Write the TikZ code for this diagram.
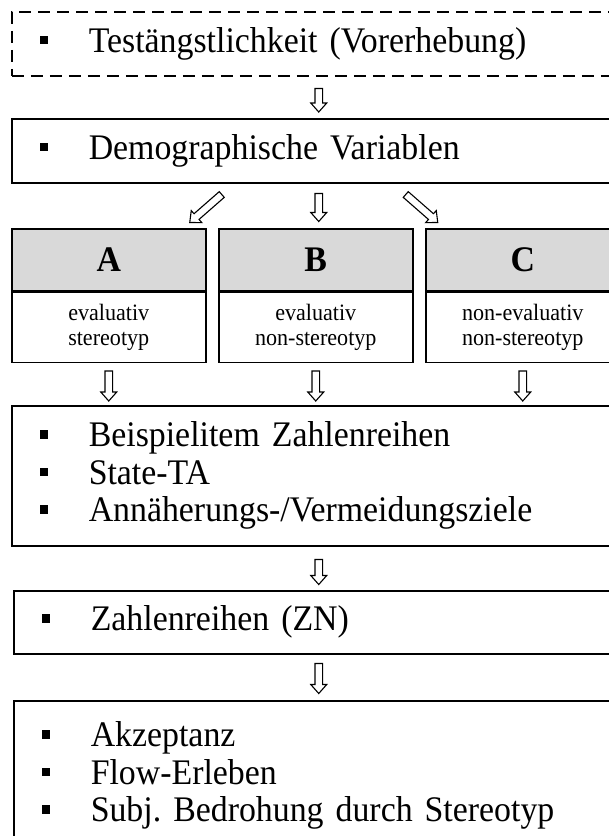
\documentclass[tikz,border=0pt]{standalone}
\usepackage{fontspec}
\setmainfont{Liberation Serif}[FakeStretch=0.94]
\usetikzlibrary{calc}
\frenchspacing

\definecolor{headgray}{HTML}{D9D9D9}

% text size of the list boxes, with slightly narrower word spaces
\newcommand\listfont{\fontsize{36}{37.5}\selectfont
  \spaceskip=0.22em plus 0.1em minus 0.05em\relax}

% square list bullet followed by the item text
\newcommand\sqbullet{\rule[8pt]{8.5pt}{8.5pt}}
\newcommand\itm[1]{\makebox[49pt][l]{\sqbullet}#1}

% hollow block arrow between two named coordinates
\newcommand\hollowarrow[2]{%
  \coordinate (hb) at ($(#2)!9pt!(#1)$);
  \draw[blockarrow]
    ($(#1)!3.8pt!90:(#2)$) -- ($(hb)!3.8pt!90:(#2)$) -- ($(hb)!8pt!90:(#2)$)
    -- (#2)
    -- ($(hb)!8pt!-90:(#2)$) -- ($(hb)!3.8pt!-90:(#2)$) -- ($(#1)!3.8pt!-90:(#2)$)
    -- cycle;}

\tikzset{
  box/.style={draw=black, line width=1.5pt, fill=white, anchor=north west,
    inner xsep=28pt, inner ysep=0pt, minimum width=614pt, text width=558pt,
    align=left, font=\listfont},
  dashbox/.style={box, dash pattern=on 12pt off 7pt},
  headbox/.style={draw=black, line width=1.5pt, fill=headgray, anchor=north west,
    minimum width=194pt, minimum height=62pt, inner sep=0pt,
    font=\bfseries\fontsize{36}{38}\selectfont},
  bodybox/.style={draw=black, line width=1.5pt, fill=white, anchor=north west,
    minimum width=194pt, minimum height=70pt, inner sep=0pt, align=center,
    font=\fontsize{23.5}{25.5}\selectfont},
  blockarrow/.style={draw=black, fill=white, line width=1.1pt, line join=miter},
}

\begin{document}
\begin{tikzpicture}[x=1pt, y=-1pt]
  \useasboundingbox (0,0) rectangle (609,836);
  \clip (0,0) rectangle (609,836);
  \fill[white] (0,0) rectangle (609,836);

  % boxes
  \node[dashbox, minimum height=64pt] (pre) at (11,11)
    {\itm{Testängstlichkeit (Vorerhebung)}};
  \node[box, minimum height=64pt] (demo) at (11,118)
    {\itm{Demographische Variablen}};

  \node[headbox] (hA) at (11,228) {A};
  \node[bodybox] (bA) at (hA.south west) {evaluativ\\stereotyp};
  \node[headbox] (hB) at (218,228) {B};
  \node[bodybox] (bB) at (hB.south west) {evaluativ\\non-stereotyp};
  \node[headbox] (hC) at (425,228) {C};
  \node[bodybox] (bC) at (hC.south west) {non-evaluativ\\non-stereotyp};

  \node[box, minimum height=140pt] (mid) at (11,405)
    {\itm{Beispielitem Zahlenreihen}\\
     \itm{State-TA}\\
     \itm{Annäherungs-/Vermeidungsziele}};
  \node[box, minimum height=63pt] (zn) at (13,590)
    {\itm{Zahlenreihen (ZN)}};
  \node[box, minimum height=150pt] (out) at (13,700)
    {\itm{Akzeptanz}\\
     \itm{Flow-Erleben}\\
     \itm{Subj. Bedrohung durch Stereotyp}};

  % arrow end points
  \coordinate (p0) at ($(pre.south)+(0,12)$);
  \coordinate (p1) at ($(demo.north)+(0,-6)$);
  \coordinate (dm0) at ($(demo.south)+(0,10)$);
  \coordinate (dm1) at ($(demo.south)+(0,38)$);
  \coordinate (dl0) at ($(demo.south)+(-97,11)$);
  \coordinate (dl1) at ($(demo.south)+(-129,39)$);
  \coordinate (dr0) at ($(demo.south)+(87,11)$);
  \coordinate (dr1) at ($(demo.south)+(119,39)$);
  \coordinate (ga0) at ($(bA.south)+(0,8)$);
  \coordinate (ga1) at ($(bA.south)+(0,38)$);
  \coordinate (gb0) at ($(bB.south)+(0,8)$);
  \coordinate (gb1) at ($(bB.south)+(0,38)$);
  \coordinate (gc0) at ($(bC.south)+(0,8)$);
  \coordinate (gc1) at ($(bC.south)+(0,38)$);
  \coordinate (m0) at ($(mid.south)+(0,13)$);
  \coordinate (m1) at ($(mid.south)+(0,38)$);
  \coordinate (z0) at ($(zn.south)+(-2,9)$);
  \coordinate (z1) at ($(zn.south)+(-2,39)$);

  % arrows
  \hollowarrow{p0}{p1}
  \hollowarrow{dm0}{dm1}
  \hollowarrow{dl0}{dl1}
  \hollowarrow{dr0}{dr1}
  \hollowarrow{ga0}{ga1}
  \hollowarrow{gb0}{gb1}
  \hollowarrow{gc0}{gc1}
  \hollowarrow{m0}{m1}
  \hollowarrow{z0}{z1}
\end{tikzpicture}
\end{document}
